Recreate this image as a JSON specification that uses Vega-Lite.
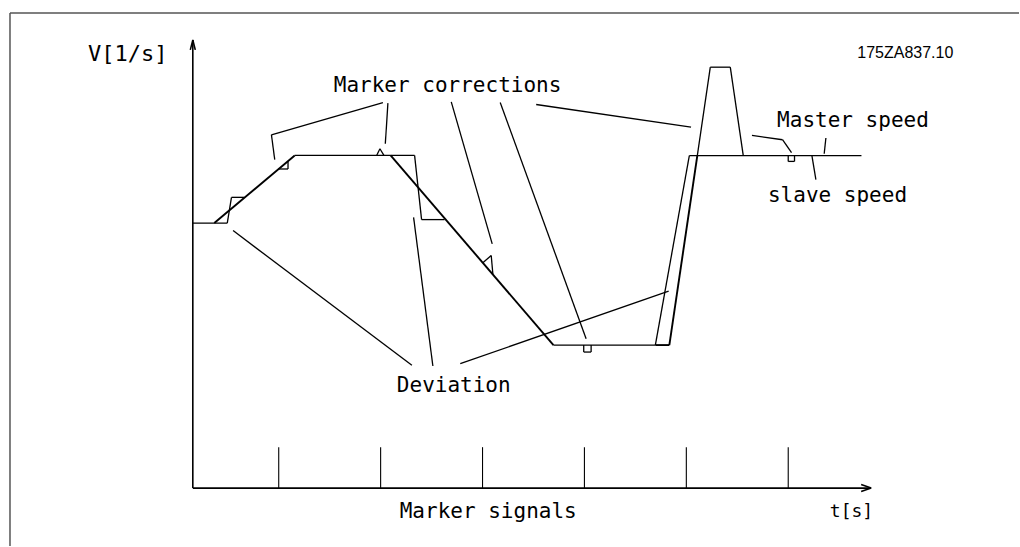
{
  "$schema": "https://vega.github.io/schema/vega-lite/v6.json",
  "width": 1020,
  "height": 547,
  "autosize": {"type": "fit", "contains": "padding"},
  "padding": 0,
  "background": "white",
  "config": {"view": {"stroke": null}},
  "datasets": {
    "segments": [
      {"role": "frame", "u": -183, "v": 476, "u2": 827, "v2": 476},
      {"role": "frame", "u": -183, "v": 476, "u2": -183, "v2": -58},
      {"role": "axis", "u": 0, "v": 0, "u2": 0, "v2": 449},
      {"role": "axis", "u": 0, "v": 449, "u2": -2.5, "v2": 439},
      {"role": "axis", "u": 0, "v": 449, "u2": 2.5, "v2": 439},
      {"role": "axis", "u": 0, "v": 0, "u2": 679, "v2": 0},
      {"role": "axis", "u": 679, "v": 0, "u2": 669, "v2": 3.5},
      {"role": "axis", "u": 679, "v": 0, "u2": 669, "v2": -3.5},
      {"role": "marker", "u": 86, "v": 0, "u2": 86, "v2": 41},
      {"role": "marker", "u": 188, "v": 0, "u2": 188, "v2": 41},
      {"role": "marker", "u": 290, "v": 0, "u2": 290, "v2": 41},
      {"role": "marker", "u": 392, "v": 0, "u2": 392, "v2": 41},
      {"role": "marker", "u": 494, "v": 0, "u2": 494, "v2": 41},
      {"role": "marker", "u": 596, "v": 0, "u2": 596, "v2": 41},
      {"role": "slave", "u": 0, "v": 265.5, "u2": 34.5, "v2": 265.5},
      {"role": "slave", "u": 34.5, "v": 265.5, "u2": 38.7, "v2": 291.3},
      {"role": "slave", "u": 38.7, "v": 291.3, "u2": 51.5, "v2": 291.3},
      {"role": "slave", "u": 102, "v": 333.3, "u2": 222, "v2": 333.3},
      {"role": "slave", "u": 222, "v": 333.3, "u2": 229, "v2": 269},
      {"role": "slave", "u": 229, "v": 269, "u2": 252, "v2": 269},
      {"role": "slave", "u": 361, "v": 143.3, "u2": 463, "v2": 143.3},
      {"role": "slave", "u": 463, "v": 143.3, "u2": 497, "v2": 333},
      {"role": "slave", "u": 497, "v": 333, "u2": 669.3, "v2": 333},
      {"role": "slave", "u": 505, "v": 333, "u2": 518, "v2": 421.7},
      {"role": "slave", "u": 518, "v": 421.7, "u2": 538, "v2": 421.7},
      {"role": "slave", "u": 538, "v": 421.7, "u2": 551, "v2": 333},
      {"role": "master", "u": 21.5, "v": 265.5, "u2": 102, "v2": 333.3},
      {"role": "master", "u": 198, "v": 333.3, "u2": 361, "v2": 143.3},
      {"role": "master", "u": 463, "v": 143.3, "u2": 477, "v2": 143.3},
      {"role": "master", "u": 477, "v": 143.3, "u2": 505, "v2": 333},
      {"role": "correction", "u": 85.3, "v": 319.7, "u2": 95.3, "v2": 319.7},
      {"role": "correction", "u": 95.3, "v": 319.7, "u2": 95.3, "v2": 327.3},
      {"role": "correction", "u": 184, "v": 333.3, "u2": 187.3, "v2": 340},
      {"role": "correction", "u": 187.3, "v": 340, "u2": 191.3, "v2": 333.3},
      {"role": "correction", "u": 290.3, "v": 225.7, "u2": 298.7, "v2": 233},
      {"role": "correction", "u": 298.7, "v": 233, "u2": 300.4, "v2": 214},
      {"role": "correction", "u": 391.3, "v": 143.3, "u2": 391.3, "v2": 136.3},
      {"role": "correction", "u": 391.3, "v": 136.3, "u2": 398.7, "v2": 136.3},
      {"role": "correction", "u": 398.7, "v": 136.3, "u2": 398.7, "v2": 143.3},
      {"role": "correction", "u": 596, "v": 333, "u2": 596, "v2": 327.3},
      {"role": "correction", "u": 596, "v": 327.3, "u2": 602.3, "v2": 327.3},
      {"role": "correction", "u": 602.3, "v": 327.3, "u2": 602.3, "v2": 333},
      {"role": "pointer", "u": 190.3, "v": 386.3, "u2": 78.7, "v2": 354},
      {"role": "pointer", "u": 78.7, "v": 354, "u2": 82, "v2": 329},
      {"role": "pointer", "u": 195.3, "v": 385.7, "u2": 192.7, "v2": 345},
      {"role": "pointer", "u": 258.7, "v": 387, "u2": 299.7, "v2": 244.7},
      {"role": "pointer", "u": 307.7, "v": 386.3, "u2": 393.7, "v2": 149.7},
      {"role": "pointer", "u": 343.7, "v": 384.3, "u2": 498.7, "v2": 361.7},
      {"role": "pointer", "u": 559.7, "v": 353.3, "u2": 590.3, "v2": 349},
      {"role": "pointer", "u": 590.3, "v": 349, "u2": 599.3, "v2": 336},
      {"role": "pointer", "u": 633.7, "v": 350.7, "u2": 632, "v2": 335},
      {"role": "pointer", "u": 619.7, "v": 333, "u2": 623.7, "v2": 309},
      {"role": "pointer", "u": 219.3, "v": 123, "u2": 40.3, "v2": 258},
      {"role": "pointer", "u": 240.3, "v": 122.3, "u2": 221, "v2": 271.3},
      {"role": "pointer", "u": 267.7, "v": 124.7, "u2": 476.3, "v2": 197.3}
    ],
    "labels": [
      {"kind": "big", "label": "Marker corrections", "u": 255, "v": 397.3},
      {"kind": "big", "label": "Master speed", "u": 660.8, "v": 361.7},
      {"kind": "big", "label": "slave speed", "u": 645.3, "v": 287},
      {"kind": "big", "label": "Deviation", "u": 261.2, "v": 96.3},
      {"kind": "big", "label": "Marker signals", "u": 295.7, "v": -30.3},
      {"kind": "vaxis", "label": "V[1/s]", "u": -65.2, "v": 428},
      {"kind": "taxis", "label": "t[s]", "u": 659.3, "v": -29},
      {"kind": "code", "label": "175ZA837.10", "u": 713.2, "v": 430.7}
    ]
  },
  "layer": [
    {
      "data": {"name": "segments"},
      "transform": [{"filter": "datum.role === 'frame'"}],
      "mark": {"type": "rule", "stroke": "#555555", "strokeWidth": 1.5},
      "encoding": {
        "x": {"field": "u", "type": "quantitative", "scale": {"domain": [-193, 827], "nice": false, "zero": false}, "axis": null},
        "y": {"field": "v", "type": "quantitative", "scale": {"domain": [-58, 489], "nice": false, "zero": false}, "axis": null},
        "x2": {"field": "u2"},
        "y2": {"field": "v2"}
      }
    },
    {
      "data": {"name": "segments"},
      "transform": [{"filter": "datum.role === 'axis'"}],
      "mark": {"type": "rule", "stroke": "black", "strokeWidth": 1.6},
      "encoding": {
        "x": {"field": "u", "type": "quantitative", "scale": {"domain": [-193, 827], "nice": false, "zero": false}, "axis": null},
        "y": {"field": "v", "type": "quantitative", "scale": {"domain": [-58, 489], "nice": false, "zero": false}, "axis": null},
        "x2": {"field": "u2"},
        "y2": {"field": "v2"}
      }
    },
    {
      "data": {"name": "segments"},
      "transform": [{"filter": "datum.role === 'marker'"}],
      "mark": {"type": "rule", "stroke": "black", "strokeWidth": 1.1},
      "encoding": {
        "x": {"field": "u", "type": "quantitative", "scale": {"domain": [-193, 827], "nice": false, "zero": false}, "axis": null},
        "y": {"field": "v", "type": "quantitative", "scale": {"domain": [-58, 489], "nice": false, "zero": false}, "axis": null},
        "x2": {"field": "u2"},
        "y2": {"field": "v2"}
      }
    },
    {
      "data": {"name": "segments"},
      "transform": [{"filter": "datum.role === 'slave' || datum.role === 'correction' || datum.role === 'pointer'"}],
      "mark": {"type": "rule", "stroke": "black", "strokeWidth": 1.3},
      "encoding": {
        "x": {"field": "u", "type": "quantitative", "scale": {"domain": [-193, 827], "nice": false, "zero": false}, "axis": null},
        "y": {"field": "v", "type": "quantitative", "scale": {"domain": [-58, 489], "nice": false, "zero": false}, "axis": null},
        "x2": {"field": "u2"},
        "y2": {"field": "v2"}
      }
    },
    {
      "data": {"name": "segments"},
      "transform": [{"filter": "datum.role === 'master'"}],
      "mark": {"type": "rule", "stroke": "black", "strokeWidth": 1.9},
      "encoding": {
        "x": {"field": "u", "type": "quantitative", "scale": {"domain": [-193, 827], "nice": false, "zero": false}, "axis": null},
        "y": {"field": "v", "type": "quantitative", "scale": {"domain": [-58, 489], "nice": false, "zero": false}, "axis": null},
        "x2": {"field": "u2"},
        "y2": {"field": "v2"}
      }
    },
    {
      "data": {"name": "labels"},
      "transform": [{"filter": "datum.kind === 'big'"}],
      "mark": {"type": "text", "font": "DejaVu Sans Mono", "fontSize": 21, "align": "center", "baseline": "alphabetic", "color": "black"},
      "encoding": {
        "x": {"field": "u", "type": "quantitative", "scale": {"domain": [-193, 827], "nice": false, "zero": false}, "axis": null},
        "y": {"field": "v", "type": "quantitative", "scale": {"domain": [-58, 489], "nice": false, "zero": false}, "axis": null},
        "text": {"field": "label"}
      }
    },
    {
      "data": {"name": "labels"},
      "transform": [{"filter": "datum.kind === 'vaxis'"}],
      "mark": {"type": "text", "font": "DejaVu Sans Mono", "fontSize": 22, "align": "center", "baseline": "alphabetic", "color": "black"},
      "encoding": {
        "x": {"field": "u", "type": "quantitative", "scale": {"domain": [-193, 827], "nice": false, "zero": false}, "axis": null},
        "y": {"field": "v", "type": "quantitative", "scale": {"domain": [-58, 489], "nice": false, "zero": false}, "axis": null},
        "text": {"field": "label"}
      }
    },
    {
      "data": {"name": "labels"},
      "transform": [{"filter": "datum.kind === 'taxis'"}],
      "mark": {"type": "text", "font": "DejaVu Sans Mono", "fontSize": 18, "align": "center", "baseline": "alphabetic", "color": "black"},
      "encoding": {
        "x": {"field": "u", "type": "quantitative", "scale": {"domain": [-193, 827], "nice": false, "zero": false}, "axis": null},
        "y": {"field": "v", "type": "quantitative", "scale": {"domain": [-58, 489], "nice": false, "zero": false}, "axis": null},
        "text": {"field": "label"}
      }
    },
    {
      "data": {"name": "labels"},
      "transform": [{"filter": "datum.kind === 'code'"}],
      "mark": {"type": "text", "font": "Liberation Sans", "fontSize": 16, "align": "center", "baseline": "alphabetic", "color": "black"},
      "encoding": {
        "x": {"field": "u", "type": "quantitative", "scale": {"domain": [-193, 827], "nice": false, "zero": false}, "axis": null},
        "y": {"field": "v", "type": "quantitative", "scale": {"domain": [-58, 489], "nice": false, "zero": false}, "axis": null},
        "text": {"field": "label"}
      }
    }
  ]
}
